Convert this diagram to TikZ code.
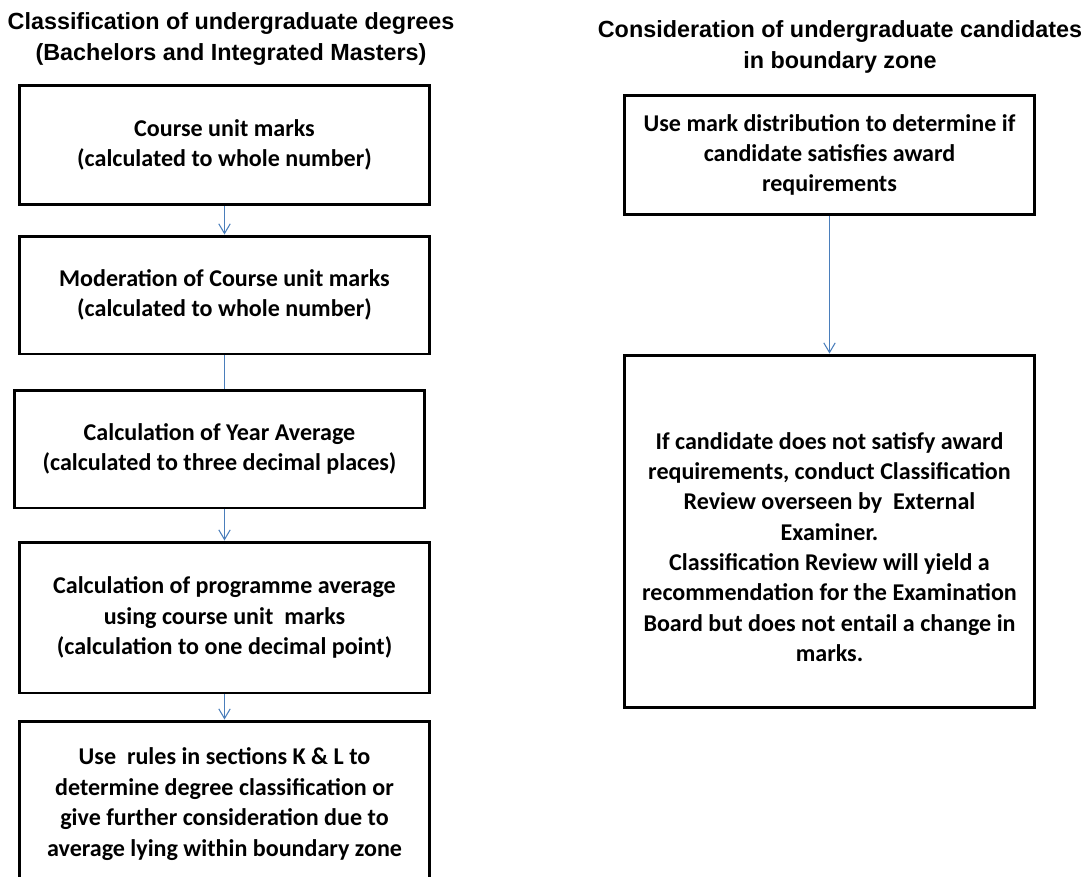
\documentclass[tikz,border=0pt]{standalone}
\usepackage{fontspec}
\setmainfont{Carlito}
\newfontfamily\headfont{Liberation Sans}
\usetikzlibrary{arrows.meta}
\definecolor{arrowblue}{HTML}{4A7EBB}

\begin{document}
\begin{tikzpicture}[x=0.02cm,y=-0.02cm,
    stagebox/.style={draw,line width=1.7pt,align=center,inner sep=0pt,
      minimum width=8.22cm,font=\fontsize{13.7}{17.3}\selectfont\bfseries},
    heading/.style={align=center,font=\fontsize{13.3}{17.6}\selectfont\headfont\bfseries},
    link/.style={draw=arrowblue,line width=0.6pt},
    flow/.style={link,-{Straight Barb[length=5.5pt,width=6.5pt]}}]
        \clip (0,0) rectangle (1088,876);
        \node[heading] (lefthead) at (231,39) {Classification of undergraduate degrees\\(Bachelors and Integrated Masters)};
        \node[heading] (righthead) at (840,47) {Consideration of undergraduate candidates\\in boundary zone};

        \node[stagebox,minimum height=2.4cm] (marks) at (224.5,145) {Course unit marks\\(calculated to whole number)};
        \node[stagebox,minimum height=2.36cm] (moderation) at (224.5,295) {Moderation of Course unit marks\\(calculated to whole number)};
        \node[stagebox,minimum height=2.36cm] (yearavg) at (219.5,449) {Calculation of Year Average\\(calculated to three decimal places)};
        \node[stagebox,minimum height=3.02cm] (progavg) at (224.5,617.5) {Calculation of programme average\\using course unit\ \ marks\\(calculation to one decimal point)};
        \node[stagebox,minimum height=3.32cm] (rules) at (224.5,804) {Use\ \ rules in sections K \& L to\\determine degree classification or\\give further consideration due to\\average lying within boundary zone};

        \node[stagebox,minimum height=2.4cm] (distribution) at (829.5,155) {Use mark distribution to determine if\\candidate satisfies award\\requirements};
        \node[stagebox,minimum height=7.06cm] (review) at (829.5,531.5) {\mbox{}\\[10pt]If candidate does not satisfy award\\requirements, conduct Classification\\Review overseen by\ \ External\\Examiner.\\Classification Review will yield a\\recommendation for the Examination\\Board but does not entail a change in\\marks.};

        \draw[flow] (marks.south) -- (moderation.north);
        \draw[link] (moderation.south) -- (moderation.south |- yearavg.north);
        \draw[flow] (yearavg.south -| progavg.north) -- (progavg.north);
        \draw[flow] (progavg.south) -- (rules.north);
        \draw[flow] (distribution.south) -- (review.north);
\end{tikzpicture}
\end{document}
